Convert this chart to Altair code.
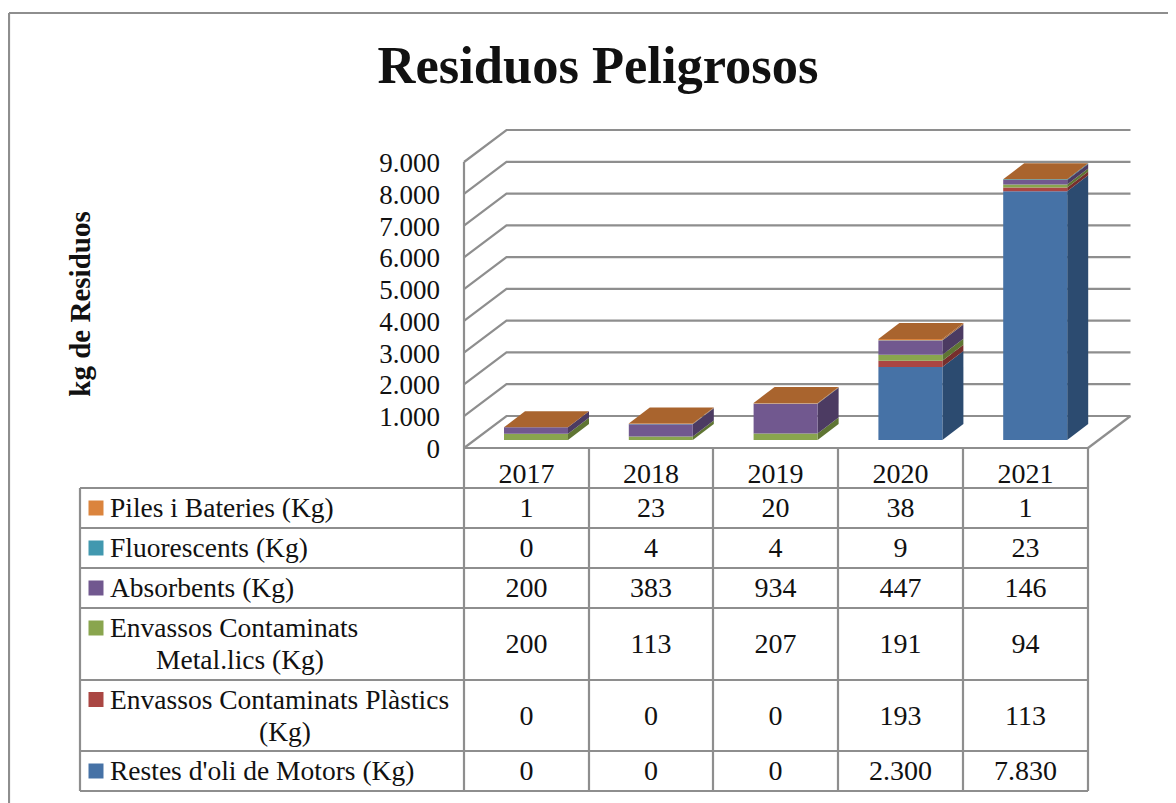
import altair as alt
import pandas as pd

# ---------- data ----------
years = ["2017", "2018", "2019", "2020", "2021"]
oil = [0, 0, 0, 2300, 7830]
plastics = [0, 0, 0, 193, 113]
metal = [200, 113, 207, 191, 94]
absorbents = [200, 383, 934, 447, 146]
fluorescents = [0, 4, 4, 9, 23]
batteries = [1, 23, 20, 38, 1]
series_values = [oil, plastics, metal, absorbents, fluorescents, batteries]
front_colors = ["#4672A6", "#AA4643", "#89A54E", "#71588F", "#4198AF", "#DB843D"]
side_colors = ["#2C4B70", "#772F2D", "#5F7533", "#4C3B62", "#2B6A7B", "#A9622E"]
top_color = "#A9642E"
axis_ticks = [0, 1000, 2000, 3000, 4000, 5000, 6000, 7000, 8000, 9000]

# table rows, top to bottom: (swatch colour, label lines, values)
table_rows = [
    ("#DB843D", [("Piles i Bateries  (Kg)", 110)], batteries),
    ("#4198AF", [("Fluorescents  (Kg)", 110)], fluorescents),
    ("#71588F", [("Absorbents (Kg)", 110)], absorbents),
    ("#89A54E", [("Envassos Contaminats", 110), ("Metal.lics (Kg)", 156)], metal),
    ("#AA4643", [("Envassos Contaminats Plàstics", 110), ("(Kg)", 259)], plastics),
    ("#4672A6", [("Restes d'oli de Motors (Kg)", 110)], oil),
]

# ---------- layout (reference page pixels, 8 px page margin removed) ----------
M = 8
W, H = 1160, 795
FONT = "Liberation Serif"
TEXT = "#111111"
LINE = "#8E8E8E"
table_cols = [464, 589, 713, 838, 963, 1088]
table_lines = [488, 528, 568, 608, 680, 751, 791]
table_left = 80

xs = alt.Scale(domain=[0, 5], range=[464 - M, 1088 - M], nice=False, zero=False)
ys = alt.Scale(domain=[0, 9000], range=[448 - M, 162 - M], nice=False, zero=False)
px = alt.Scale(domain=[0, W], range=[0, W], nice=False, zero=False)
py = alt.Scale(domain=[0, H], range=[0, H], nice=False, zero=False)

PX_PER_CAT = (1088 - 464) / 5
PX_PER_VAL = (448 - 162) / 9000
WALL_DX, WALL_DY = 42.5 / PX_PER_CAT, 32 / PX_PER_VAL
BAR_DX, BAR_DY = 21 / PX_PER_CAT, 16 / PX_PER_VAL
BAR_GAP_X, BAR_GAP_Y = 40 / PX_PER_CAT, 8 / PX_PER_VAL
BAR_W = 64 / PX_PER_CAT


def X(f="x", s=xs):
    return alt.X(f + ":Q", scale=s, axis=None, title=None)


def Y(f="y", s=ys):
    return alt.Y(f + ":Q", scale=s, axis=None, title=None, stack=None)


# ---------- walls and gridlines ----------
grid = []
for v in axis_ticks:
    grid += [
        {"x": 0, "y": v, "g": v, "o": 0},
        {"x": WALL_DX, "y": v + WALL_DY, "g": v, "o": 1},
        {"x": 5 + WALL_DX, "y": v + WALL_DY, "g": v, "o": 2},
    ]
grid_layer = alt.Chart(pd.DataFrame(grid)).mark_line(color=LINE, strokeWidth=2.2).encode(
    x=X(), y=Y(), detail="g:N", order="o:Q"
)
wall = pd.DataFrame([{"x": 0, "y": 0, "o": 0}, {"x": 0, "y": 9000, "o": 1}])
wall_layer = alt.Chart(wall).mark_line(color=LINE, strokeWidth=2.2).encode(x=X(), y=Y(), order="o:Q")
floor = pd.DataFrame([{"x": 5, "y": 0, "o": 0}, {"x": 5 + WALL_DX, "y": WALL_DY, "o": 1}])
floor_layer = alt.Chart(floor).mark_line(color=LINE, strokeWidth=2.2).encode(x=X(), y=Y(), order="o:Q")

# ---------- 3D stacked bars ----------
fronts, sides, tops = [], [], []
for i in range(len(years)):
    left = i + BAR_GAP_X
    right = left + BAR_W
    base = BAR_GAP_Y
    for s, vals in enumerate(series_values):
        v = vals[i]
        if v == 0:
            continue
        lo, hi = base, base + v
        fronts.append({"x": left, "x2": right, "y": lo, "y2": hi, "fill": front_colors[s]})
        k = f"{i}-{s}"
        sides.append({"x": right, "y": lo, "y2": hi, "k": k, "fill": side_colors[s]})
        sides.append({"x": right + BAR_DX, "y": lo + BAR_DY, "y2": hi + BAR_DY, "k": k, "fill": side_colors[s]})
        base += v
    tops.append({"x": left, "x2": right, "y": base, "k": i})
    tops.append({"x": left + BAR_DX, "x2": right + BAR_DX, "y": base + BAR_DY, "k": i})

side_layer = alt.Chart(pd.DataFrame(sides)).mark_area(opacity=1, interpolate="linear").encode(
    x=X(), y=Y(), y2=alt.Y2("y2:Q"), detail="k:N", color=alt.Color("fill:N", scale=None)
)
front_layer = alt.Chart(pd.DataFrame(fronts)).mark_rect(opacity=1).encode(
    x=X(), x2=alt.X2("x2:Q"), y=Y(), y2=alt.Y2("y2:Q"), color=alt.Color("fill:N", scale=None)
)
top_layer = alt.Chart(pd.DataFrame(tops)).mark_area(
    opacity=1, orient="horizontal", color=top_color, interpolate="linear"
).encode(x=X(), x2=alt.X2("x2:Q"), y=Y(), detail="k:N")

# ---------- frame and table lines ----------
segs = [
    {"x": 9 - M, "x2": W, "y": 13 - M, "y2": 13 - M},
    {"x": 9 - M, "x2": 9 - M, "y": 13 - M, "y2": H},
]
for y in table_lines:
    segs.append({"x": table_left - M, "x2": 1088 - M, "y": y - M, "y2": y - M})
segs.append({"x": 464 - M, "x2": 1088 - M, "y": 448 - M, "y2": 448 - M})
segs.append({"x": table_left - M, "x2": table_left - M, "y": 488 - M, "y2": 791 - M})
for x in table_cols:
    segs.append({"x": x - M, "x2": x - M, "y": 448 - M, "y2": 791 - M})
seg_layer = alt.Chart(pd.DataFrame(segs)).mark_rule(color=LINE, strokeWidth=2.2).encode(
    x=X(s=px), x2=alt.X2("x2:Q"), y=Y(s=py), y2=alt.Y2("y2:Q")
)


def fmt(v):
    return f"{v:,}".replace(",", ".")


# ---------- axis labels ----------
tick_layer = alt.Chart(pd.DataFrame({"y": axis_ticks, "t": [fmt(v) for v in axis_ticks]})).mark_text(
    font=FONT, fontSize=27, color=TEXT, align="right", baseline="middle", dy=2
).encode(x=alt.value(440 - M), y=Y(), text="t:N")

# ---------- table texts ----------
cells, labels, swatches = [], [], []
centers = [(table_cols[i] + table_cols[i + 1]) / 2 for i in range(5)]
for i, yr in enumerate(years):
    cells.append({"x": centers[i] - M, "y": 474 - M, "t": yr})
for r, (col, lines, vals) in enumerate(table_rows):
    cy = (table_lines[r] + table_lines[r + 1]) / 2
    for i, v in enumerate(vals):
        cells.append({"x": centers[i] - M, "y": cy - M, "t": fmt(v)})
    swatches.append({"x": 96 - M, "y": (cy if len(lines) == 1 else cy - 16) - M, "fill": col})
    for j, (t, lx) in enumerate(lines):
        ly = cy if len(lines) == 1 else cy - 16 + j * 32
        labels.append({"x": lx - M, "y": ly - M, "t": t})

cell_layer = alt.Chart(pd.DataFrame(cells)).mark_text(
    font=FONT, fontSize=28, color=TEXT, align="center", baseline="middle", dy=1
).encode(x=X(s=px), y=Y(s=py), text="t:N")
label_layer = alt.Chart(pd.DataFrame(labels)).mark_text(
    font=FONT, fontSize=27.5, color=TEXT, align="left", baseline="middle", dy=1
).encode(x=X(s=px), y=Y(s=py), text="t:N")
swatch_layer = alt.Chart(pd.DataFrame(swatches)).mark_square(size=225, opacity=1).encode(
    x=X(s=px), y=Y(s=py), color=alt.Color("fill:N", scale=None)
)

# ---------- titles ----------
title_layer = alt.Chart(pd.DataFrame({"x": [598 - M], "y": [67 - M], "t": ["Residuos Peligrosos"]})).mark_text(
    font=FONT, fontSize=52.5, fontWeight="bold", color=TEXT, align="center", baseline="middle"
).encode(x=X(s=px), y=Y(s=py), text="t:N")
ytitle_layer = alt.Chart(pd.DataFrame({"x": [81 - M], "y": [304 - M], "t": ["kg de Residuos"]})).mark_text(
    font=FONT, fontSize=29, fontWeight="bold", color=TEXT, align="center", baseline="middle", angle=270
).encode(x=X(s=px), y=Y(s=py), text="t:N")

chart = (
    alt.layer(
        grid_layer, wall_layer, floor_layer, seg_layer,
        side_layer, front_layer, top_layer,
        tick_layer, cell_layer, label_layer, swatch_layer,
        title_layer, ytitle_layer,
    )
    .resolve_scale(x="independent", y="independent")
    .properties(width=W, height=H, padding=0, autosize=alt.AutoSizeParams(type="none"), background="white")
    .configure_view(stroke=None)
)
chart.save("out.html", embed_options={"renderer": "svg", "actions": False})
